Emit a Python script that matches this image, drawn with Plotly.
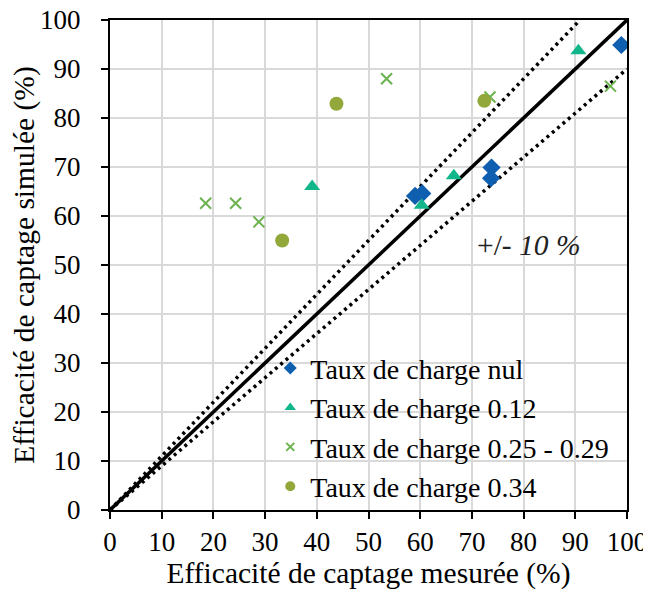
import plotly.graph_objects as go

# Data (measured %, simulated %)
nul_x = [59.0, 60.4, 73.8, 73.7, 98.9]
nul_y = [64.1, 64.6, 69.9, 67.7, 94.9]
c012_x = [39.1, 60.3, 66.5, 90.6]
c012_y = [66.0, 62.2, 68.2, 93.7]
c025_x = [18.5, 24.3, 28.8, 53.5, 73.5, 96.8]
c025_y = [62.6, 62.6, 58.8, 88.0, 84.3, 86.5]
c034_x = [33.3, 43.8, 72.4]
c034_y = [55.0, 82.9, 83.5]

names = ["Taux de charge nul", "Taux de charge 0.12",
         "Taux de charge 0.25 - 0.29", "Taux de charge 0.34"]
ticks = [0, 10, 20, 30, 40, 50, 60, 70, 80, 90, 100]

FONT = "Times New Roman"
c_blue = "#0f5fb0"
c_teal = "#12b68b"
c_green = "#6cb24f"
c_olive = "#93a83b"

fig = go.Figure()

fig.add_trace(go.Scatter(x=[0, 100], y=[0, 100], mode="lines",
                         line=dict(color="black", width=3.5), showlegend=False, hoverinfo="skip"))
fig.add_trace(go.Scatter(x=[0, 100 / 1.1], y=[0, 100], mode="lines",
                         line=dict(color="black", width=3.5, dash="3px,4px"), showlegend=False, hoverinfo="skip"))
fig.add_trace(go.Scatter(x=[0, 100], y=[0, 90], mode="lines",
                         line=dict(color="black", width=3.5, dash="3px,4px"), showlegend=False, hoverinfo="skip"))

series = [
    (nul_x, nul_y, dict(symbol="diamond", size=14, color=c_blue), dict(symbol="diamond", size=10, color=c_blue)),
    (c012_x, c012_y, dict(symbol="triangle-up", size=14, color=c_teal), dict(symbol="triangle-up", size=10, color=c_teal)),
    (c025_x, c025_y, dict(symbol="x-thin", size=11, color=c_green, line=dict(color=c_green, width=2)),
     dict(symbol="x-thin", size=8, color=c_green, line=dict(color=c_green, width=2))),
    (c034_x, c034_y, dict(symbol="circle", size=14, color=c_olive), dict(symbol="circle", size=10, color=c_olive)),
]

for (xs, ys, mk, _), name in zip(series, names):
    fig.add_trace(go.Scatter(x=xs, y=ys, mode="markers", marker=mk, name=name, showlegend=False))

for i, ((_, _, _, lmk), name) in enumerate(zip(series, names)):
    fig.add_trace(go.Scatter(x=[None], y=[None], mode="markers", marker=lmk, name=name,
                             legendgroup=f"g{i}", showlegend=True))

fig.add_annotation(x=81, y=54, xref="x", yref="y", text="+/- <i>10 %</i>", showarrow=False,
                   font=dict(family=FONT, size=29.5, color="#222222"))

axis_common = dict(
    range=[0, 100], tickvals=ticks, ticktext=[str(t) for t in ticks],
    showgrid=True, gridcolor="#d9d9d9", gridwidth=2,
    showline=True, linecolor="black", linewidth=2, mirror=True,
    ticks="outside", ticklen=7, tickwidth=2, tickcolor="black",
    zeroline=False, automargin=False, ticklabeloverflow="allow",
    tickfont=dict(family=FONT, size=27, color="black"),
)

fig.update_layout(
    width=643, height=591,
    margin=dict(l=102, r=24, t=12, b=89),
    paper_bgcolor="white", plot_bgcolor="white",
    font=dict(family=FONT, color="black"),
    xaxis=dict(**axis_common, title=dict(text="Efficacité de captage mesurée (%)",
                                         font=dict(family=FONT, size=29.5, color="black"), standoff=4)),
    yaxis=dict(**axis_common, ticklabelstandoff=15,
               title=dict(text="Efficacité de captage simulée (%)",
                          font=dict(family=FONT, size=29.5, color="black"), standoff=6)),
    legend=dict(x=0.31, y=0.34, xanchor="left", yanchor="top",
                bgcolor="rgba(0,0,0,0)", borderwidth=0,
                font=dict(family=FONT, size=28, color="black"),
                traceorder="grouped", tracegroupgap=0, itemwidth=30),
    showlegend=True,
)

fig.write_html("out.html")
